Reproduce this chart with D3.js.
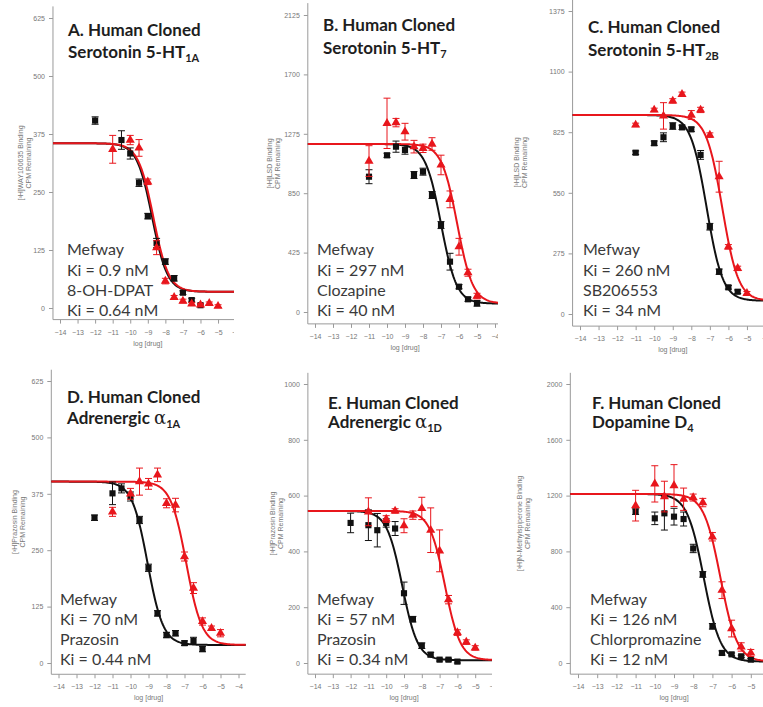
<!DOCTYPE html>
<html>
<head>
<meta charset="utf-8">
<script src="https://cdn.jsdelivr.net/npm/d3@7"></script>
<style>
  body { margin: 0; background: #fff; }
  svg { display: block; }
</style>
</head>
<body>
<svg id="chart" width="763" height="707"></svg>
<script>
// ---------- data ----------
const panelIds = ['A', 'B', 'C', 'D', 'E', 'F'];
const titleLine1 = ['A. Human Cloned', 'B. Human Cloned', 'C. Human Cloned',
                    'D. Human Cloned', 'E. Human Cloned', 'F. Human Cloned'];
const titleLine2 = ['Serotonin 5-HT', 'Serotonin 5-HT', 'Serotonin 5-HT',
                    'Adrenergic ', 'Adrenergic ', 'Dopamine D'];
const titleGreek = ['', '', '', 'α', 'α', ''];
const titleSub = ['1A', '7', '2B', '1A', '1D', '4'];
const radioligand = ['[³H]WAY100635 Binding', '[³H]LSD Binding', '[³H]LSD Binding',
                     '[³H]Prazosin Binding', '[³H]Prazosin Binding', '[³H]N-Methylspiperone Binding'];
const refDrug = ['8-OH-DPAT', 'Clozapine', 'SB206553', 'Prazosin', 'Prazosin', 'Chlorpromazine'];
const kiMefway = ['0.9', '297', '260', '70', '57', '126'];
const kiRef = ['0.64', '40', '34', '0.44', '0.34', '12'];
const yMax = [625, 2125, 1375, 625, 1000, 2000];
const yStep = [125, 425, 275, 125, 200, 400];
const xTicks = [-14, -13, -12, -11, -10, -9, -8, -7, -6, -5, -4];

// [log dose, CPM, error]
const mefwayA = [[-11, 342, 30], [-10, 362, 10], [-9.5, 345, 18], [-9, 272, 6], [-8.5, 130, 15],
                 [-8, 58, 6], [-7.5, 23, 4], [-7, 15, 4], [-6.5, 9, 3], [-6, 7, 3], [-5.5, 10, 3], [-5, 4, 3]];
const refA = [[-12, 404, 8], [-10.5, 362, 20], [-10, 333, 12], [-9.5, 270, 8], [-9, 198, 6], [-8.5, 140, 10],
              [-8, 100, 6], [-7.5, 64, 6], [-7, 33, 4], [-6.5, 17, 4], [-6, 6, 3]];
const mefwayB = [[-11, 1080, 110], [-10, 1350, 180], [-9.5, 1355, 30], [-9, 1290, 60], [-8.5, 1183, 45],
                 [-8, 1171, 30], [-7.5, 1202, 45], [-7, 1052, 70], [-6.5, 806, 60], [-6, 467, 60],
                 [-5.5, 281, 25], [-5, 114, 20]];
const refB = [[-11, 968, 50], [-10, 1121, 15], [-9.5, 1183, 40], [-9, 1159, 30], [-8.5, 980, 25],
              [-8, 1004, 25], [-7.5, 837, 25], [-7, 622, 25], [-6.5, 360, 60], [-6, 181, 15],
              [-5.5, 91, 15], [-5, 62, 20]];
const mefwayC = [[-11, 858, 8], [-10, 926, 8], [-9.5, 899, 60], [-9, 967, 10], [-8.5, 997, 10],
                 [-8, 903, 20], [-7.5, 926, 12], [-7, 812, 10], [-6.5, 623, 70], [-6, 305, 10],
                 [-5.5, 207, 10], [-5, 94, 8]];
const refC = [[-11, 732, 8], [-10, 775, 10], [-9.5, 802, 20], [-9, 853, 15], [-8.5, 847, 10],
              [-8, 838, 10], [-7.5, 722, 20], [-7, 396, 15], [-6.5, 192, 12], [-6, 121, 8], [-5.5, 101, 8]];
const mefwayD = [[-11, 335, 10], [-10, 375, 12], [-9.5, 402, 30], [-9, 397, 12], [-8.5, 417, 15],
                 [-8, 354, 10], [-7.5, 350, 15], [-7, 236, 10], [-6.5, 166, 12], [-6, 92, 8],
                 [-5.5, 77, 5], [-5, 66, 8]];
const refD = [[-12, 322, 6], [-11, 376, 25], [-10.5, 387, 10], [-10, 369, 10], [-9.5, 317, 8],
              [-9, 211, 8], [-8.5, 110, 6], [-8, 62, 6], [-7.5, 66, 6], [-7, 44, 5], [-6.5, 49, 8], [-6, 31, 6]];
const mefwayE = [[-11, 542, 50], [-10, 516, 12], [-9.5, 545, 8], [-9, 492, 25], [-8.5, 530, 15],
                 [-8, 554, 40], [-7.5, 476, 80], [-7, 402, 75], [-6.5, 227, 15], [-6, 109, 10],
                 [-5.5, 75, 8], [-5, 54, 8]];
const refE = [[-12, 502, 35], [-11, 494, 55], [-10.5, 476, 60], [-10, 502, 15], [-9.5, 482, 25],
              [-9, 250, 40], [-8.5, 157, 10], [-8, 62, 10], [-7.5, 30, 8], [-7, 12, 5], [-6.5, 12, 5], [-6, 5, 5]];
const mefwayF = [[-11, 1128, 110], [-10, 1284, 130], [-9.5, 1193, 110], [-9, 1272, 150], [-8.5, 1174, 80],
                 [-8, 1186, 25], [-7.5, 1150, 30], [-7, 905, 30], [-6.5, 522, 60], [-6, 247, 60],
                 [-5.5, 115, 30], [-5, 72, 25]];
const refF = [[-11, 1085, 20], [-10, 1037, 45], [-9.5, 1073, 120], [-9, 1049, 60], [-8.5, 1032, 50],
              [-8, 821, 30], [-7.5, 635, 20], [-7, 263, 20], [-6.5, 72, 15], [-6, 62, 10],
              [-5.5, 48, 8], [-5, 24, 8]];
const mefwaySets = [mefwayA, mefwayB, mefwayC, mefwayD, mefwayE, mefwayF];
const refSets = [refA, refB, refC, refD, refE, refF];

// one-site fit: top, bottom, log IC50
const fitTop = [355, 1202, 903, 402, 545, 1212];
const fitBottom = [35, 60, 60, 40, 10, 10];
const logIC50Mefway = [-8.68, -6.1, -6.33, -6.9, -6.7, -6.58];
const logIC50Ref = [-8.75, -7.0, -7.17, -9.05, -9.1, -7.45];

// ---------- layout ----------
const layout = [
  { tick14: 60,  k: 17.56, y0: 308, yTop: 18,  clip: [0, 0, 234, 360],   labX: [21, 29],   titleX: 68,  titleY: [36, 58],   noteX: 67,  noteY: [255, 276, 296, 316] },
  { tick14: 315, k: 18,    y0: 312, yTop: 15,  clip: [250, 0, 498, 360], labX: [270, 278], titleX: 323, titleY: [31, 54],   noteX: 317, noteY: [255, 276, 296, 316] },
  { tick14: 580, k: 18.55, y0: 314, yTop: 11,  clip: [505, 0, 763, 360], labX: [517, 525], titleX: 588, titleY: [33, 56],   noteX: 583, noteY: [255, 276, 296, 316] },
  { tick14: 58.5, k: 18,   y0: 663, yTop: 381, clip: [0, 360, 255, 707], labX: [15, 23],   titleX: 67,  titleY: [403, 424], noteX: 60,  noteY: [605, 625, 645, 665] },
  { tick14: 315, k: 17.8,  y0: 663, yTop: 384, clip: [255, 360, 492, 707], labX: [273, 281], titleX: 328, titleY: [409, 428], noteX: 317, noteY: [605, 625, 645, 665] },
  { tick14: 578, k: 19.2,  y0: 663, yTop: 384, clip: [505, 360, 763, 707], labX: [520, 528], titleX: 592, titleY: [409, 428], noteX: 590, noteY: [605, 625, 645, 665] }
];

const RED = '#e8161c';
const BLACK = '#111';
const AXIS = '#9a9a9a';
const TICKTXT = '#777';

const svg = d3.select('#chart');
const defs = svg.append('defs');

panelIds.forEach((id, i) => {
  const L = layout[i];
  const x = d3.scaleLinear().domain([-14, -5]).range([L.tick14, L.tick14 + 9 * L.k]);
  const y = d3.scaleLinear().domain([0, yMax[i]]).range([L.y0, L.yTop]);
  const xLo = -14.4, xHi = -3.6;
  const yLo = -0.04 * yMax[i], yHi = 1.04 * yMax[i];

  defs.append('clipPath').attr('id', 'clip' + id)
    .append('rect')
    .attr('x', L.clip[0]).attr('y', L.clip[1])
    .attr('width', L.clip[2] - L.clip[0]).attr('height', L.clip[3] - L.clip[1]);

  const g = svg.append('g').attr('clip-path', 'url(#clip' + id + ')');

  // L-shaped frame
  g.append('path')
    .attr('d', `M${x(xLo)},${y(yHi)}V${y(yLo)}H${x(xHi)}`)
    .attr('fill', 'none').attr('stroke', AXIS).attr('stroke-width', 1);

  // y axis
  const yAx = g.append('g').attr('transform', `translate(${x(xLo)},0)`)
    .call(d3.axisLeft(y).tickValues(d3.range(0, yMax[i] + 1, yStep[i]))
      .tickSize(4).tickPadding(4).tickFormat(d3.format('d')));
  yAx.select('.domain').remove();
  yAx.selectAll('line').attr('stroke', AXIS);
  yAx.selectAll('text').attr('fill', TICKTXT).style('font', '7px "Liberation Sans", Arial, sans-serif');

  // x axis (ticks past the visible crop are dropped)
  const shownTicks = xTicks.filter(t => x(t) <= L.clip[2] + 4);
  const xAx = g.append('g').attr('transform', `translate(0,${y(yLo)})`)
    .call(d3.axisBottom(x).tickValues(shownTicks).tickSize(4).tickPadding(6).tickFormat(d3.format('d')));
  xAx.select('.domain').remove();
  xAx.selectAll('line').attr('stroke', AXIS);
  xAx.selectAll('text').attr('fill', TICKTXT).style('font', '7px "Liberation Sans", Arial, sans-serif');

  g.append('text')
    .attr('x', x(-9)).attr('y', y(yLo) + 26)
    .attr('text-anchor', 'middle').attr('fill', TICKTXT)
    .style('font', '7px "Liberation Sans", Arial, sans-serif')
    .text('log [drug]');

  // y axis title (two rotated lines)
  const yMid = (y(yHi) + y(yLo)) / 2;
  [radioligand[i], 'CPM Remaining'].forEach((t, j) => {
    g.append('text')
      .attr('transform', `translate(${L.labX[j]},${yMid}) rotate(-90)`)
      .attr('text-anchor', 'middle').attr('dominant-baseline', 'middle')
      .attr('fill', TICKTXT)
      .style('font', '7px "Liberation Sans", Arial, sans-serif')
      .text(t);
  });

  // fitted curves
  const xs = d3.range(xLo, xHi + 0.001, 0.05);
  const curve = (ic50) => d3.line()
    .x(d => x(d))
    .y(d => y(fitBottom[i] + (fitTop[i] - fitBottom[i]) / (1 + Math.pow(10, d - ic50))))(xs);
  g.append('path').attr('d', curve(logIC50Ref[i]))
    .attr('fill', 'none').attr('stroke', BLACK).attr('stroke-width', 2);
  g.append('path').attr('d', curve(logIC50Mefway[i]))
    .attr('fill', 'none').attr('stroke', RED).attr('stroke-width', 2);

  // data points with error bars
  const drawSet = (data, color, symbol, size) => {
    const s = g.append('g');
    const eb = s.selectAll('g.eb').data(data).enter().append('g')
      .attr('stroke', color).attr('stroke-width', 1);
    eb.append('line')
      .attr('x1', d => x(d[0])).attr('x2', d => x(d[0]))
      .attr('y1', d => y(d[1] - d[2])).attr('y2', d => y(d[1] + d[2]));
    eb.append('line')
      .attr('x1', d => x(d[0]) - 3.5).attr('x2', d => x(d[0]) + 3.5)
      .attr('y1', d => y(d[1] - d[2])).attr('y2', d => y(d[1] - d[2]));
    eb.append('line')
      .attr('x1', d => x(d[0]) - 3.5).attr('x2', d => x(d[0]) + 3.5)
      .attr('y1', d => y(d[1] + d[2])).attr('y2', d => y(d[1] + d[2]));
    s.selectAll('path.pt').data(data).enter().append('path')
      .attr('d', d3.symbol().type(symbol).size(size))
      .attr('transform', d => `translate(${x(d[0])},${y(d[1])})`)
      .attr('fill', color);
  };
  drawSet(refSets[i], BLACK, d3.symbolSquare, 38);
  drawSet(mefwaySets[i], RED, d3.symbolTriangle, 36);

  // title
  const title = svg.append('text')
    .attr('fill', '#1e1e1e')
    .style('font', 'bold 17px Lato, "Open Sans", sans-serif');
  title.append('tspan').attr('x', L.titleX).attr('y', L.titleY[0]).text(titleLine1[i]);
  title.append('tspan').attr('x', L.titleX).attr('y', L.titleY[1]).text(titleLine2[i]);
  if (titleGreek[i]) {
    title.append('tspan').style('font', '18px "DejaVu Serif", serif').text(titleGreek[i]);
  }
  title.append('tspan').attr('dy', 4).style('font-size', '11px').text(titleSub[i]);

  // Ki annotation
  const notes = ['Mefway', 'Ki = ' + kiMefway[i] + ' nM', refDrug[i], 'Ki = ' + kiRef[i] + ' nM'];
  notes.forEach((t, j) => {
    svg.append('text')
      .attr('x', L.noteX).attr('y', L.noteY[j])
      .attr('fill', '#3a3a3a')
      .style('font', '16px Lato, "Open Sans", sans-serif')
      .text(t);
  });
});
</script>
</body>
</html>
